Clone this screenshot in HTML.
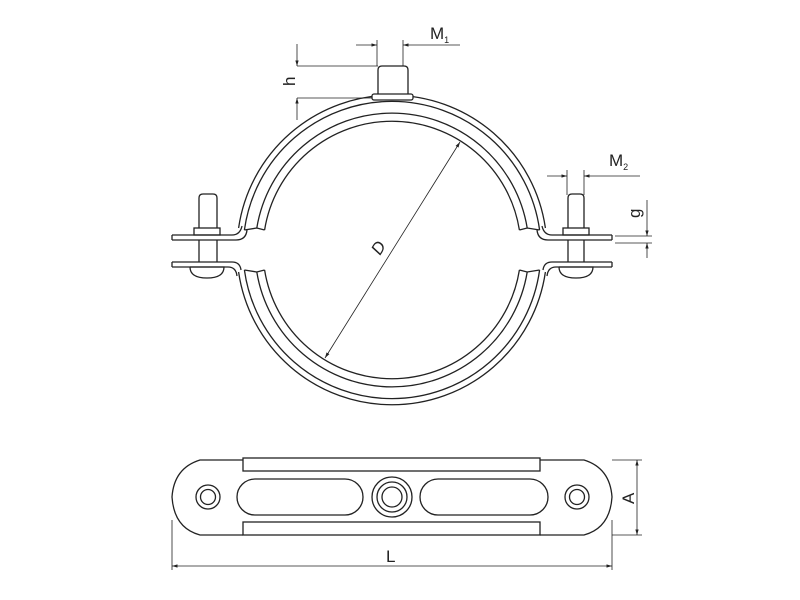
<!DOCTYPE html>
<html><head><style>html,body{margin:0;background:#fff}svg{display:block}</style></head><body>
<svg width="800" height="600" viewBox="0 0 800 600" xmlns="http://www.w3.org/2000/svg" font-family="Liberation Sans, sans-serif">
<defs><marker id="a" viewBox="0 0 10 10" refX="10" refY="5" markerWidth="7" markerHeight="7" orient="auto-start-reverse"><path d="M0,2 L10,5 L0,8z" fill="#222"/></marker></defs>
<g fill="none" stroke="#222" stroke-width="1.3">
<!-- upper band -->
<path d="M238.6,228 A155,155 0 0 1 545.4,228"/><path d="M244.4,230 A149,149 0 0 1 539.6,230"/>
<path d="M256.8,228 A137,137 0 0 1 527.2,228"/><path d="M264.6,230 A129,129 0 0 1 519.4,230"/>
<path d="M244.4,230 L256.8,228 L264.6,230 M539.6,230 L527.2,228 L519.4,230"/>
<!-- lower band -->
<path d="M238.6,272 A155,155 0 0 0 545.4,272"/><path d="M244.4,270 A149,149 0 0 0 539.6,270"/>
<path d="M256.8,272 A137,137 0 0 0 527.2,272"/><path d="M264.6,270 A129,129 0 0 0 519.4,270"/>
<path d="M244.4,270 L256.8,272 L264.6,270 M539.6,270 L527.2,272 L519.4,270"/>
<!-- flanges -->
<path d="M172,235 H232 Q240,235 242,226 M172,240 H236 Q246,240 247,230"/>
<path d="M172,235 V240"/>
<path d="M172,262 H232 Q240,262 241,270 M172,267 H228 Q236,267 237,276 M172,262 V267"/>
<path d="M612,235 H552 Q544,235 542,226 M612,240 H548 Q538,240 537,230 M612,235 V240"/>
<path d="M612,262 H552 Q544,262 543,270 M612,267 H556 Q548,267 547,276 M612,262 V267"/>
<!-- bolts -->
<path d="M199,228 V198 Q199,194 203,194 H213 Q217,194 217,198 V228"/><rect x="194" y="228" width="26" height="7"/><path d="M199,240 V262 M217,240 V262"/>
<path d="M190,267 H224 Q224,278 207,278 Q190,278 190,267"/>
<path d="M568,228 V198 Q568,194 572,194 H580 Q584,194 584,198 V228"/><rect x="563" y="228" width="26" height="7"/><path d="M568,240 V262 M584,240 V262"/>
<path d="M559,267 H593 Q593,278 576,278 Q559,278 559,267"/>
<!-- top stud -->
<path d="M378,94 V70 Q378,66 382,66 H404 Q408,66 408,70 V94"/>
<rect x="372" y="94" width="41" height="6" rx="2" fill="#fff"/>
<!-- bottom plate -->
<path d="M243,460 H200 Q174,468 172,497 Q174,528 200,535 H243"/>
<path d="M540,460 H584 Q610,468 612,497 Q610,528 584,535 H540"/>
<rect x="243" y="458" width="297" height="13"/><rect x="243" y="522" width="297" height="13"/>
<rect x="237" y="479" width="126" height="36" rx="18"/><rect x="420" y="479" width="128" height="36" rx="18"/>
<circle cx="392" cy="497" r="20"/><circle cx="392" cy="497" r="15"/><circle cx="392" cy="497" r="10"/>
<circle cx="208" cy="497" r="12"/><circle cx="208" cy="497" r="7.5"/>
<circle cx="577" cy="497" r="12"/><circle cx="577" cy="497" r="7.5"/>
</g>
<g fill="none" stroke="#222" stroke-width="0.8">
<line x1="460" y1="142" x2="325" y2="358" marker-start="url(#a)" marker-end="url(#a)"/>
<path d="M297,66 H378 M297,98 H372"/>
<line x1="297" y1="44" x2="297" y2="66" marker-end="url(#a)"/><line x1="297" y1="120" x2="297" y2="98" marker-end="url(#a)"/>
<path d="M377,40 V66 M403,40 V66"/>
<line x1="356" y1="45" x2="377" y2="45" marker-end="url(#a)"/><line x1="460" y1="45" x2="403" y2="45" marker-end="url(#a)"/>
<path d="M567,170 V195 M584,170 V195"/>
<line x1="547" y1="176" x2="567" y2="176" marker-end="url(#a)"/><line x1="640" y1="176" x2="584" y2="176" marker-end="url(#a)"/>
<path d="M615,236 H652 M615,243 H652"/>
<line x1="647" y1="200" x2="647" y2="236" marker-end="url(#a)"/><line x1="647" y1="258" x2="647" y2="243" marker-end="url(#a)"/>
<path d="M172,520 V570 M612,520 V570"/>
<line x1="172" y1="566" x2="612" y2="566" marker-start="url(#a)" marker-end="url(#a)"/>
<path d="M612,460 H642 M612,535 H642"/>
<line x1="637" y1="460" x2="637" y2="535" marker-start="url(#a)" marker-end="url(#a)"/>
</g>
<g fill="#222" font-size="17">
<text x="430" y="39">M<tspan font-size="9" dy="4">1</tspan></text>
<text x="609" y="166">M<tspan font-size="9" dy="4">2</tspan></text>
<text x="386" y="562">L</text>
<text transform="translate(634,504) rotate(-90)">A</text>
<text transform="translate(295,86) rotate(-90)">h</text>
<text transform="translate(640,218) rotate(-90)">g</text>
<text transform="translate(380,256) rotate(-58)" font-style="italic">D</text>
</g>
</svg>
</body></html>
